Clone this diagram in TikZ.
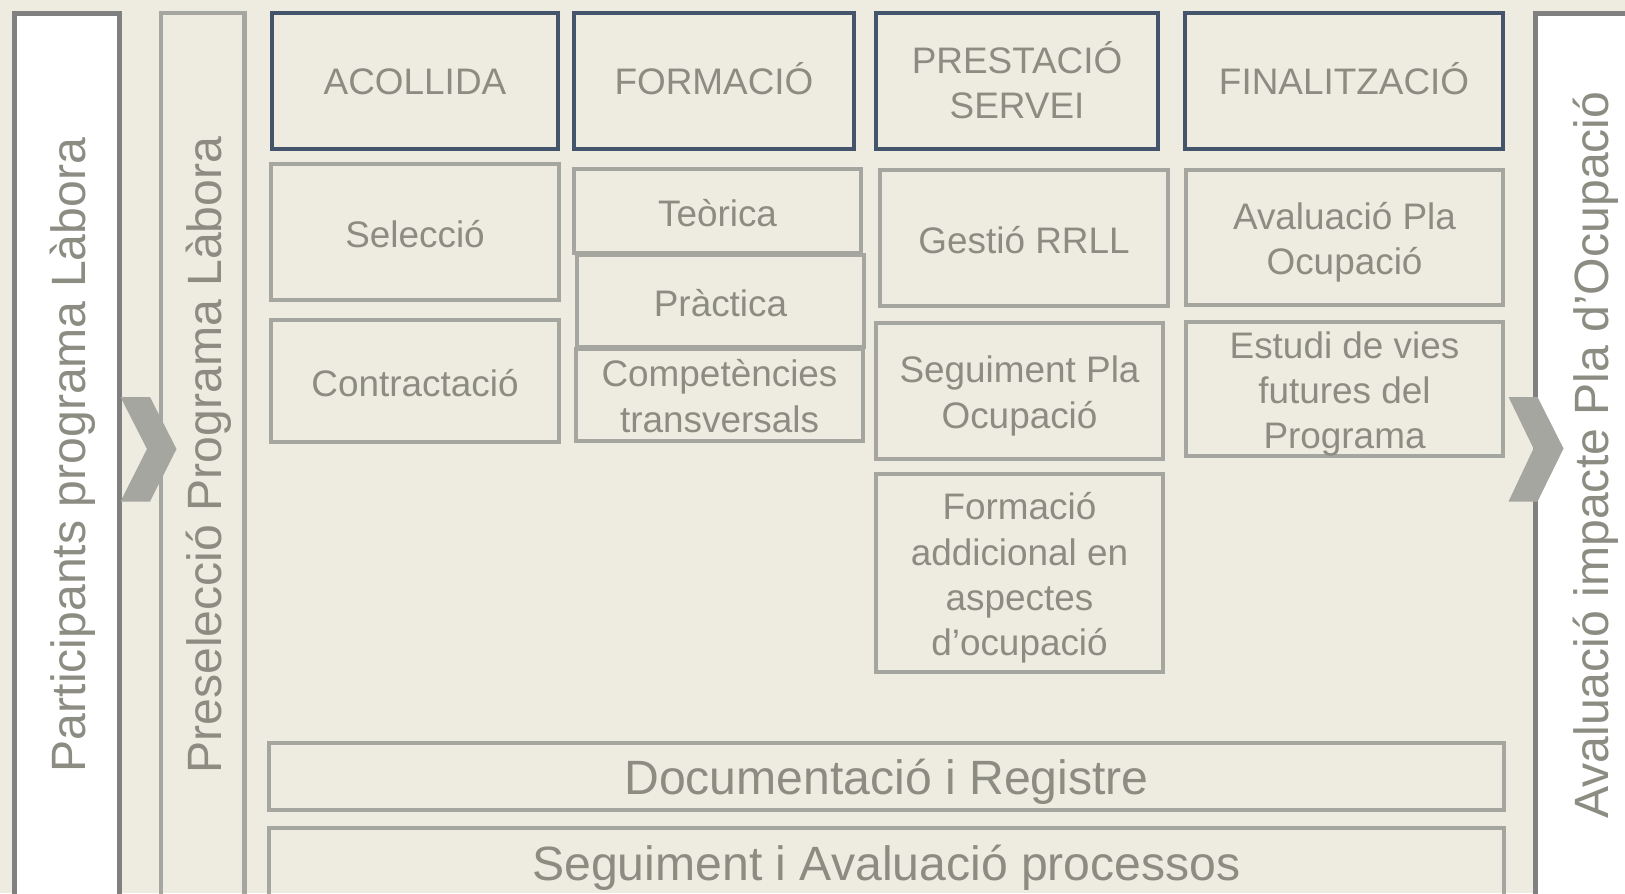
\documentclass[tikz,border=0pt]{standalone}
\usepackage{fontspec}
\setmainfont{Liberation Sans}
\usepackage{tikz}

\definecolor{bgbeige}{HTML}{EEECE1}
\definecolor{hdrblue}{HTML}{44546A}
\definecolor{boxgray}{HTML}{A5A6A0}
\definecolor{sidegray}{HTML}{808080}
\definecolor{txtgray}{HTML}{8C8C82}

\tikzset{
  hdr/.style={draw=hdrblue,line width=0.4mm},
  sub/.style={draw=boxgray,line width=0.45mm},
  side/.style={draw=sidegray,fill=white,line width=0.5mm},
  lbl/.style={text=txtgray,align=center,inner sep=0pt,yshift=-0.2mm,
    font=\fontsize{10.5}{12.9}\selectfont},
  biglbl/.style={text=txtgray,inner sep=0pt,
    font=\fontsize{13.7}{16}\selectfont}
}

\begin{document}
\begin{tikzpicture}[x=0.1mm,y=-0.1mm]
    \clip (0,0) rectangle (1625,893);
    \fill[bgbeige] (0,0) rectangle (1625,893);

    % side columns
    \draw[side] (14.5,13) rectangle (119.5,930);
    \draw[sub] (161,13) rectangle (244.5,930);
    \draw[side] (1535.5,13) rectangle (1700,930);

    \node[biglbl,rotate=90,anchor=base] (partic) at (85,455) {Participants programa Làbora};
    \node[biglbl,rotate=90,anchor=base] (presel) at (221,455) {Preselecció Programa Làbora};
    \node[biglbl,rotate=90,anchor=base] (impacte) at (1608,455) {Avaluació impacte Pla d’Ocupació};

    % chevrons
    \fill[boxgray] (120.5,397) -- (150,397) -- (176.5,449) -- (150,501.5) -- (120.5,501.5) -- (147,449) -- cycle;
    \fill[boxgray] (1508.5,397) -- (1537.5,397) -- (1563.5,448.5) -- (1537.5,501.5) -- (1508.5,501.5) -- (1533.5,448.5) -- cycle;

    % phase headers
    \draw[hdr] (271.5,13) rectangle (558,149);
    \draw[hdr] (574,13) rectangle (854,149);
    \draw[hdr] (876,13) rectangle (1158,149);
    \draw[hdr] (1185,13) rectangle (1503,149);

    \node[lbl] (acollida) at (415,80) {ACOLLIDA};
    \node[lbl] (formacio) at (714,77) {FORMACIÓ};
    \node[lbl] (prestacio) at (1017,78) {PRESTACIÓ\\SERVEI};
    \node[lbl] (finalitz) at (1344,77) {FINALITZACIÓ};

    % acollida
    \draw[sub] (271,164) rectangle (559,300);
    \draw[sub] (271,320) rectangle (559,442);
    \node[lbl] (seleccio) at (415,232) {Selecció};
    \node[lbl] (contract) at (415,381) {Contractació};

    % formacio
    \draw[sub] (574,169) rectangle (861,253);
    \draw[sub] (577,255) rectangle (864,347);
    \draw[sub] (576,349) rectangle (863,441);
    \node[lbl] (teorica) at (717.5,211) {Teòrica};
    \node[lbl] (practica) at (720.5,301) {Pràctica};
    \node[lbl] (compet) at (719.5,394) {Competències\\transversals};

    % prestacio servei
    \draw[sub] (880,170) rectangle (1168,306);
    \draw[sub] (876,323) rectangle (1163,459);
    \draw[sub] (876,474) rectangle (1163,672);
    \node[lbl] (gestio) at (1024,238) {Gestió RRLL};
    \node[lbl] (segpla) at (1019.5,394) {Seguiment Pla\\Ocupació};
    \node[lbl] (formadd) at (1019.5,576) {Formació\\addicional en\\aspectes\\d’ocupació};

    % finalitzacio
    \draw[sub] (1186,170) rectangle (1503,305);
    \draw[sub] (1186,322) rectangle (1503,456);
    \node[lbl] (avalpla) at (1344.5,240) {Avaluació Pla\\Ocupació};
    \node[lbl] (estudi) at (1344.5,392) {Estudi de vies\\futures del\\Programa};

    % transversal bands
    \draw[sub] (269,743) rectangle (1504,810);
    \draw[sub] (269,828) rectangle (1504,898);
    \node[biglbl] (docreg) at (886.5,781.5) {Documentació i Registre};
    \node[biglbl] (segaval) at (886.5,868) {Seguiment i Avaluació processos};
\end{tikzpicture}
\end{document}
